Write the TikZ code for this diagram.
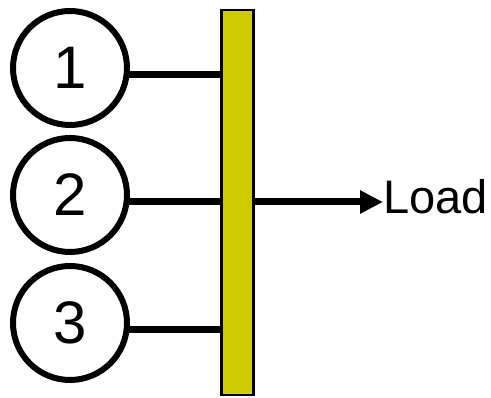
\documentclass[tikz,border=0pt]{standalone}
\usepackage{fontspec}
\setmainfont{Liberation Sans}
\usetikzlibrary{arrows.meta}
\definecolor{barfill}{RGB}{204,204,0}
\begin{document}
\begin{tikzpicture}[x=1pt,y=-1pt,
  src/.style={draw=black,line width=6pt,circle,minimum size=114pt,inner sep=0pt,font=\fontsize{60}{60}\selectfont},
  busbar/.style={draw=black,line width=2.5pt,fill=barfill,rectangle,minimum width=32pt,minimum height=385pt,inner sep=0pt},
  wire/.style={line width=7pt}]
\useasboundingbox (0,0) rectangle (491,398);
\node[busbar] (bar) at (237.5,202.5) {};
\node[src] (c1) at (70,68) {1};
\node[src] (c2) at (70,195) {2};
\node[src] (c3) at (70,323) {3};
\coordinate (w1) at (127,75);
\coordinate (w2) at (127,202);
\coordinate (w3) at (127,330);
\draw[wire] (w1) -- (w1 -| bar.west);
\draw[wire] (w2) -- (w2 -| bar.west);
\draw[wire] (w3) -- (w3 -| bar.west);
\node[anchor=west,inner sep=0pt,font=\fontsize{47}{47}\selectfont] (load) at (383,197) {Load};
\draw[wire,-{Triangle[length=23pt,width=22pt]}] (w2 -| bar.east) -- (load.west |- w2);
\end{tikzpicture}
\end{document}
